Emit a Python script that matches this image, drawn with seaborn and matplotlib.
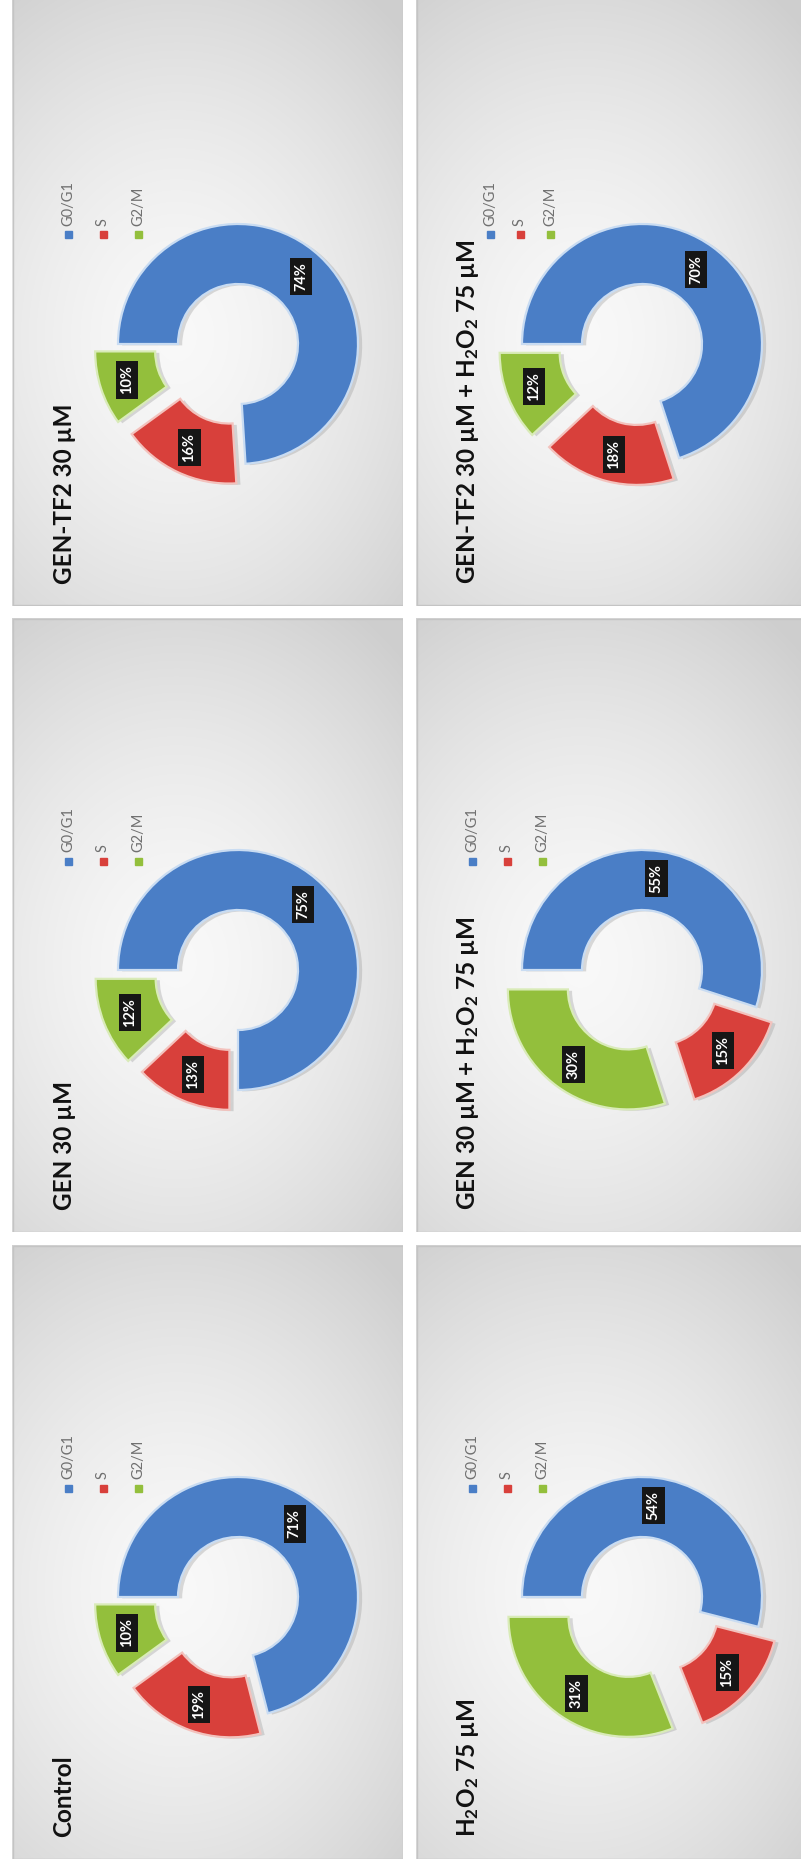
import numpy as np
import matplotlib
matplotlib.use("Agg")
import matplotlib.pyplot as plt
import matplotlib.patheffects as pe
from matplotlib.patches import Rectangle
import seaborn as sns

# Cell-cycle distribution (%) for each treatment
phases = ["G0/G1", "S", "G2/M"]
treatments = [
    "Control",
    "GEN 30 µM",
    "GEN-TF2 30 µM",
    "H$_2$O$_2$ 75 µM",
    "GEN 30 µM + H$_2$O$_2$ 75 µM",
    "GEN-TF2 30 µM + H$_2$O$_2$ 75 µM",
]
g0g1 = [71, 75, 74, 54, 55, 70]
s_phase = [19, 13, 16, 15, 15, 18]
g2m = [10, 12, 10, 31, 30, 12]

phase_colors = sns.color_palette(["#4a7ec6", "#d8403b", "#93bf3c"])
edge_colors = ["#c9dcf2", "#f3c2bd", "#d9ebb8"]
explode = [0.0, 0.18, 0.2]

sns.set_theme(style="white")
plt.rcParams["font.family"] = ["Lato", "DejaVu Sans"]
plt.rcParams["mathtext.fontset"] = "custom"
plt.rcParams["mathtext.rm"] = "Lato:bold"
plt.rcParams["mathtext.default"] = "rm"

W, H = 801, 1870
fig = plt.figure(figsize=(W / 100, H / 100), dpi=100, facecolor="white")


def px_axes(x, y, w, h):
    return fig.add_axes([x / W, 1 - (y + h) / H, w / W, h / H])


# panel grid: each panel is drawn on its side (text reads bottom to top)
col_x = [12, 416]
row_y = [1245, 618, -8]  # Control row, GEN row, GEN-TF2 row
pw, ph = 391, 614
R_PX = 120


def panel_background(w, h):
    yy, xx = np.mgrid[0:h, 0:w]
    cx, cy = 0.42 * w, 0.56 * h
    d = np.sqrt(((xx - cx) / 330.0) ** 2 + ((yy - cy) / 420.0) ** 2)
    t = np.clip(d, 0, 1) ** 1.5
    light, dark = 0.975, 0.81
    v = light - (light - dark) * t
    return np.dstack([v, v, v])


for idx, name in enumerate(treatments):
    col = idx // 3
    row = idx % 3
    x0, y0 = col_x[col], row_y[row]

    # background card with title and legend
    bg = px_axes(x0, y0, pw, ph)
    bg.imshow(panel_background(pw, ph), extent=[0, pw, ph, 0], aspect="auto",
              interpolation="bilinear", zorder=0)
    bg.set_xlim(0, pw)
    bg.set_ylim(ph, 0)
    bg.axis("off")
    bg.add_patch(Rectangle((0.5, 0.5), pw - 1, ph - 1, fill=False,
                           ec="#c4c4c4", lw=1.0, zorder=1))

    bg.text(52, ph - 22, name, rotation=90, rotation_mode="anchor",
            ha="left", va="center", fontsize=17.5, fontweight="bold",
            color="#111111", zorder=3)

    # legend sits beside the title; the longest title pushes it inward
    leg_x0, leg_dx = (74, 30) if len(name) > 30 else (56, 35)
    for i, (ph_name, c) in enumerate(zip(phases, phase_colors)):
        lx, ly = leg_x0 + leg_dx * i, 243
        bg.add_patch(Rectangle((lx - 3.5, ly - 3.5), 7, 7, color=c, zorder=3))
        bg.text(lx, ly - 9, ph_name, rotation=90, rotation_mode="anchor",
                ha="left", va="center", fontsize=10.5, color="#707070",
                zorder=3)

    # doughnut
    vals = [g0g1[idx], s_phase[idx], g2m[idx]]
    cxp, cyp = x0 + 226, y0 + 352
    half = 1.32 * R_PX
    ax = px_axes(cxp - half, cyp - half, 2 * half, 2 * half)
    ax.patch.set_alpha(0)
    wedges, _ = ax.pie(vals, colors=phase_colors, startangle=180,
                       counterclock=False, explode=explode, radius=1.0,
                       wedgeprops=dict(width=0.5, linewidth=1.6))
    for wdg, ec in zip(wedges, edge_colors):
        wdg.set_edgecolor(ec)
        wdg.set_path_effects([
            pe.SimplePatchShadow(offset=(3, -1), shadow_rgbFace="#9a9a9a",
                                 alpha=0.35),
            pe.Normal(),
        ])
    ax.set_xlim(-1.32, 1.32)
    ax.set_ylim(-1.32, 1.32)
    ax.set_aspect("equal")
    ax.axis("off")

    cum = 0.0
    for v, ex in zip(vals, explode):
        mid = np.deg2rad(180 - 360 * (cum + v / 2) / 100)
        r = 0.77 + ex
        ax.text(r * np.cos(mid), r * np.sin(mid), f"{v}%", rotation=90,
                ha="center", va="center", fontsize=10.5, fontweight="bold",
                color="white",
                bbox=dict(boxstyle="square,pad=0.28", fc="#161616", ec="none"))
        cum += v

fig.savefig("out.png", dpi=100, facecolor="white")
